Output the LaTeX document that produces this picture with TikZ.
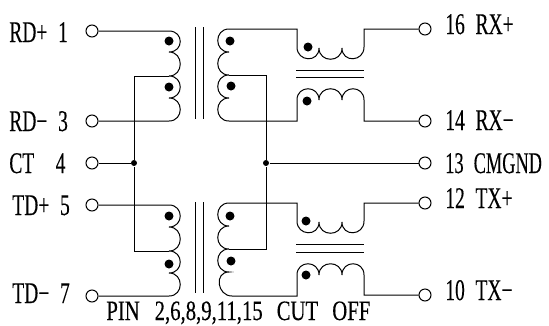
\documentclass[tikz,border=0pt]{standalone}
\usepackage{fontspec}
\setmainfont[FakeBold=0.3]{Liberation Serif}
\newcommand{\gp}{\hspace{0.55em}}
\tikzstyle{pino}=[circle, draw=black, fill=white, inner sep=0, minimum size=12pt]
\tikzstyle{dotn}=[circle, fill=black, inner sep=0, minimum size=9pt]
\tikzstyle{junc}=[circle, fill=black, inner sep=0, minimum size=6pt]
\tikzstyle{pinlabel}=[anchor=base west, inner sep=0, xscale=0.65, transform shape, font=\fontsize{30}{30}\selectfont]
\tikzstyle{cutlabel}=[anchor=base west, inner sep=0, xscale=0.74, transform shape, font=\fontsize{28}{28}\selectfont]
\tikzstyle{lobeR}=[to path={.. controls +(15,0) and +(15,0) .. (\tikztotarget)}]
\tikzstyle{lobeL}=[to path={.. controls +(-15,0) and +(-15,0) .. (\tikztotarget)}]
\tikzstyle{lobeU}=[to path={.. controls +(0,-15) and +(0,-15) .. (\tikztotarget)}]
\tikzstyle{lobeD}=[to path={.. controls +(0,15) and +(0,15) .. (\tikztotarget)}]
\begin{document}
\begin{tikzpicture}[x=1pt, y=-1pt, line width=1pt]
	\useasboundingbox (0,0) rectangle (549,325);
	% pins
	\node[pino] (p1) at (92,31) {};
	\node[pino] (p3) at (92,121) {};
	\node[pino] (p4) at (92,163) {};
	\node[pino] (p5) at (92,205) {};
	\node[pino] (p7) at (92,296) {};
	\node[pino] (p16) at (425,29) {};
	\node[pino] (p14) at (425,121) {};
	\node[pino] (p13) at (425,163) {};
	\node[pino] (p12) at (425,203) {};
	\node[pino] (p10) at (425,295) {};
	\node[pinlabel] (l1) at (9,42) {RD+\gp 1};
	\node[pinlabel] (l3) at (9,131) {RD−\gp 3};
	\node[pinlabel] (l4) at (9,173) {CT\hspace{1.1em}4};
	\node[pinlabel] (l5) at (12,215) {TD+\gp 5};
	\node[pinlabel] (l7) at (12,303) {TD−\gp 7};
	\node[pinlabel] (l16) at (445,34) {16\gp RX+};
	\node[pinlabel] (l14) at (445,130) {14\gp RX−};
	\node[pinlabel, xscale=0.94] (l13) at (445,173) {13\gp CMGND};
	\node[pinlabel] (l12) at (445,208) {12\gp TX+};
	\node[pinlabel] (l10) at (445,300) {10\gp TX−};
	\node[cutlabel] (lcut) at (106,320) {PIN\hspace{0.72em}2,6,8,9,11,15\hspace{0.68em}CUT\hspace{0.68em}OFF};
	% center taps
	\node[junc] (j1) at (134,163) {};
	\node[junc] (j2) at (266,163) {};
	\draw (p4) -- (j1);
	\draw (j2) -- (p13);
	% upper transformer
	\coordinate (a1) at (169,31);
	\coordinate (a2) at (169,52);
	\coordinate (a3) at (169,76);
	\coordinate (a4) at (169,98);
	\coordinate (a5) at (169,121);
	\draw (p1) -- (a1) to[lobeR] (a2) to[lobeR] (a3) to[lobeR] (a4) to[lobeR] (a5) -- (p3);
	\draw (a3) -| (j1);
	\draw (195,27) -- (195,119);
	\draw (203,27) -- (203,119);
	\coordinate (b1) at (229,29);
	\coordinate (b2) at (229,52);
	\coordinate (b3) at (229,75);
	\coordinate (b4) at (229,98);
	\coordinate (b5) at (229,121);
	\draw (b1) to[lobeL] (b2) to[lobeL] (b3) to[lobeL] (b4) to[lobeL] (b5);
	\draw (b3) -| (j2);
	\coordinate (c1) at (297,47);
	\coordinate (c2) at (319,48);
	\coordinate (c3) at (342,48);
	\coordinate (c4) at (364,47);
	\draw (b1) -| (c1) to[lobeD] (c2) to[lobeD] (c3) to[lobeD] (c4) |- (p16);
	\draw (296,70) -- (364,70);
	\draw (296,77) -- (364,77);
	\coordinate (d1) at (297,100);
	\coordinate (d2) at (319,100);
	\coordinate (d3) at (342,100);
	\coordinate (d4) at (364,100);
	\draw (b5) -| (d1) to[lobeU] (d2) to[lobeU] (d3) to[lobeU] (d4) |- (p14);
	\node[dotn] (n1) at (169,41) {};
	\node[dotn] (n2) at (169,87) {};
	\node[dotn] (n3) at (230,41) {};
	\node[dotn] (n4) at (231,86) {};
	\node[dotn] (n5) at (308,47) {};
	\node[dotn] (n6) at (307,101) {};
	% lower transformer
	\coordinate (e1) at (169,205);
	\coordinate (e2) at (169,227);
	\coordinate (e3) at (169,251);
	\coordinate (e4) at (169,273);
	\coordinate (e5) at (169,296);
	\draw (p5) -- (e1) to[lobeR] (e2) to[lobeR] (e3) to[lobeR] (e4) to[lobeR] (e5) -- (p7);
	\draw (e3) -| (j1);
	\draw (195,202) -- (195,293);
	\draw (203,202) -- (203,293);
	\coordinate (f1) at (229,203);
	\coordinate (f2) at (229,226);
	\coordinate (f3) at (229,249);
	\coordinate (f4) at (229,272);
	\coordinate (f5) at (232,296);
	\draw (f1) to[lobeL] (f2) to[lobeL] (f3) to[lobeL] (f4) to[lobeL] (f5);
	\draw (f3) -| (j2);
	\coordinate (g1) at (297,221);
	\coordinate (g2) at (319,222);
	\coordinate (g3) at (342,222);
	\coordinate (g4) at (364,221);
	\draw (f1) -| (g1) to[lobeD] (g2) to[lobeD] (g3) to[lobeD] (g4) |- (p12);
	\draw (296,244) -- (364,244);
	\draw (296,252) -- (364,252);
	\coordinate (h1) at (297,275);
	\coordinate (h2) at (319,275);
	\coordinate (h3) at (342,275);
	\coordinate (h4) at (364,275);
	\draw (f5) -| (h1) to[lobeU] (h2) to[lobeU] (h3) to[lobeU] (h4) |- (p10);
	\node[dotn] (n7) at (169,216) {};
	\node[dotn] (n8) at (169,264) {};
	\node[dotn] (n9) at (230,216) {};
	\node[dotn] (n10) at (231,261) {};
	\node[dotn] (n11) at (306,221) {};
	\node[dotn] (n12) at (306,275) {};
\end{tikzpicture}
\end{document}
